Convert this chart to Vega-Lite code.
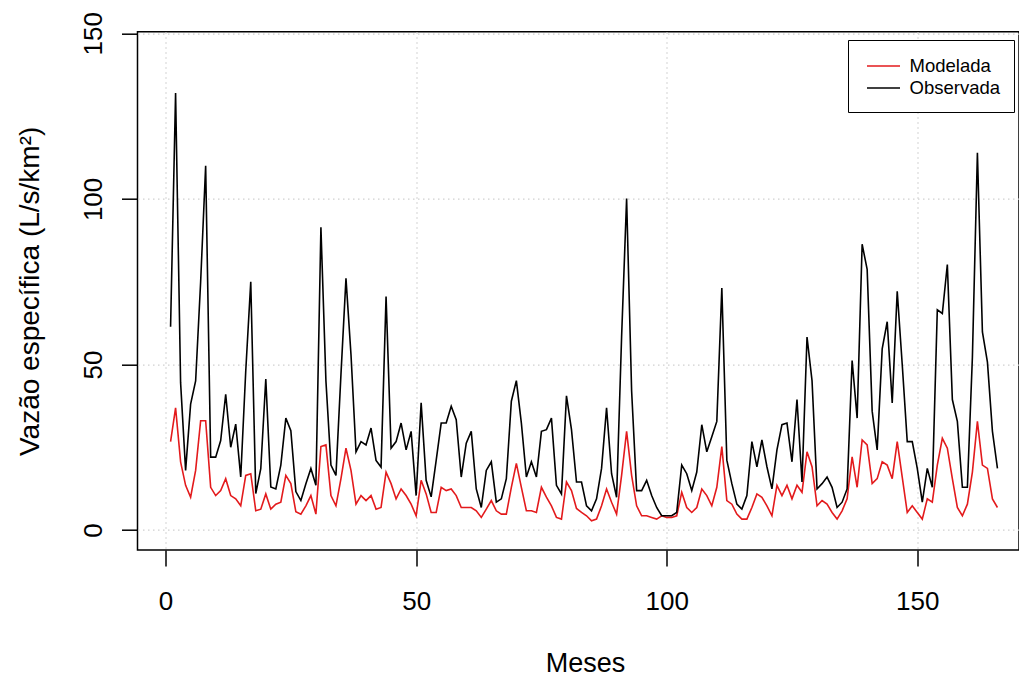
{
  "$schema": "https://vega.github.io/schema/vega-lite/v6.json",
  "width": 881.5,
  "height": 518.3,
  "autosize": {"type": "none"},
  "padding": {"left": 137.5, "top": 31.7, "right": 0, "bottom": 127},
  "background": "white",
  "config": {"view": {"stroke": "black", "strokeWidth": 1.5}, "font": "Liberation Sans"},
  "data": {"values": [
    {"mes":1,"Modelada":26.7,"Observada":61.4},{"mes":2,"Modelada":36.9,"Observada":132},{"mes":3,"Modelada":20.6,"Observada":44.5},{"mes":4,"Modelada":13.5,"Observada":18},{"mes":5,"Modelada":9.9,"Observada":38},
    {"mes":6,"Modelada":18,"Observada":45},{"mes":7,"Modelada":33,"Observada":75},{"mes":8,"Modelada":33,"Observada":110},{"mes":9,"Modelada":12.9,"Observada":22},{"mes":10,"Modelada":10.4,"Observada":22},
    {"mes":11,"Modelada":11.9,"Observada":27},{"mes":12,"Modelada":15.5,"Observada":41},{"mes":13,"Modelada":10.4,"Observada":25},{"mes":14,"Modelada":9.4,"Observada":32},{"mes":15,"Modelada":7.3,"Observada":16},
    {"mes":16,"Modelada":16.5,"Observada":48},{"mes":17,"Modelada":17,"Observada":75},{"mes":18,"Modelada":5.8,"Observada":11},{"mes":19,"Modelada":6.3,"Observada":18.5},{"mes":20,"Modelada":10.9,"Observada":45.6},
    {"mes":21,"Modelada":6.3,"Observada":13},{"mes":22,"Modelada":7.8,"Observada":12.4},{"mes":23,"Modelada":8.4,"Observada":19.6},{"mes":24,"Modelada":16.5,"Observada":33.8},{"mes":25,"Modelada":14,"Observada":30},
    {"mes":26,"Modelada":5.5,"Observada":11.6},{"mes":27,"Modelada":4.8,"Observada":8.9},{"mes":28,"Modelada":7.3,"Observada":14},{"mes":29,"Modelada":10.4,"Observada":18.6},{"mes":30,"Modelada":4.8,"Observada":13.5},
    {"mes":31,"Modelada":25.2,"Observada":91.4},{"mes":32,"Modelada":25.7,"Observada":45},{"mes":33,"Modelada":10.4,"Observada":19.6},{"mes":34,"Modelada":7.3,"Observada":16.5},{"mes":35,"Modelada":15.5,"Observada":47},
    {"mes":36,"Modelada":24.7,"Observada":76},{"mes":37,"Modelada":18,"Observada":53},{"mes":38,"Modelada":7.8,"Observada":23.6},{"mes":39,"Modelada":10.4,"Observada":26.7},{"mes":40,"Modelada":8.9,"Observada":25.7},
    {"mes":41,"Modelada":10.4,"Observada":30.8},{"mes":42,"Modelada":6.3,"Observada":21},{"mes":43,"Modelada":6.8,"Observada":19},{"mes":44,"Modelada":17.5,"Observada":70.5},{"mes":45,"Modelada":14,"Observada":24.7},
    {"mes":46,"Modelada":9.4,"Observada":26.7},{"mes":47,"Modelada":12.4,"Observada":32.3},{"mes":48,"Modelada":10.4,"Observada":24.2},{"mes":49,"Modelada":7.8,"Observada":29.8},{"mes":50,"Modelada":4.3,"Observada":10.4},
    {"mes":51,"Modelada":15,"Observada":38.4},{"mes":52,"Modelada":10.9,"Observada":15},{"mes":53,"Modelada":5.3,"Observada":10},{"mes":54,"Modelada":5.3,"Observada":21},{"mes":55,"Modelada":12.9,"Observada":32.3},
    {"mes":56,"Modelada":11.9,"Observada":32.3},{"mes":57,"Modelada":12.4,"Observada":37.4},{"mes":58,"Modelada":10.4,"Observada":33.3},{"mes":59,"Modelada":6.8,"Observada":16},{"mes":60,"Modelada":6.8,"Observada":26.2},
    {"mes":61,"Modelada":6.8,"Observada":29.8},{"mes":62,"Modelada":5.8,"Observada":12.4},{"mes":63,"Modelada":3.8,"Observada":6.8},{"mes":64,"Modelada":6.3,"Observada":18},{"mes":65,"Modelada":8.9,"Observada":20.6},
    {"mes":66,"Modelada":5.8,"Observada":8.4},{"mes":67,"Modelada":4.8,"Observada":9.4},{"mes":68,"Modelada":4.8,"Observada":15.5},{"mes":69,"Modelada":12.9,"Observada":38.9},{"mes":70,"Modelada":20.1,"Observada":45.1},
    {"mes":71,"Modelada":12.9,"Observada":32.3},{"mes":72,"Modelada":5.8,"Observada":16},{"mes":73,"Modelada":5.8,"Observada":20.6},{"mes":74,"Modelada":5.3,"Observada":16},{"mes":75,"Modelada":12.9,"Observada":29.8},
    {"mes":76,"Modelada":9.9,"Observada":30.3},{"mes":77,"Modelada":7.3,"Observada":33.8},{"mes":78,"Modelada":3.8,"Observada":13.5},{"mes":79,"Modelada":3.3,"Observada":10.9},{"mes":80,"Modelada":14.5,"Observada":40.5},
    {"mes":81,"Modelada":11.9,"Observada":30.3},{"mes":82,"Modelada":6.5,"Observada":14.5},{"mes":83,"Modelada":5.3,"Observada":14.5},{"mes":84,"Modelada":4.3,"Observada":7.3},{"mes":85,"Modelada":2.8,"Observada":5.8},
    {"mes":86,"Modelada":3.3,"Observada":9.4},{"mes":87,"Modelada":7.3,"Observada":18.6},{"mes":88,"Modelada":12.4,"Observada":36.9},{"mes":89,"Modelada":8.4,"Observada":17},{"mes":90,"Modelada":4.8,"Observada":9.9},
    {"mes":91,"Modelada":16.5,"Observada":58.3},{"mes":92,"Modelada":29.8,"Observada":100.1},{"mes":93,"Modelada":16.5,"Observada":42},{"mes":94,"Modelada":7.3,"Observada":11.9},{"mes":95,"Modelada":4.3,"Observada":11.9},
    {"mes":96,"Modelada":4.3,"Observada":15},{"mes":97,"Modelada":3.8,"Observada":10.4},{"mes":98,"Modelada":3.3,"Observada":6.8},{"mes":99,"Modelada":4.3,"Observada":4.3},{"mes":100,"Modelada":3.8,"Observada":4.3},
    {"mes":101,"Modelada":3.8,"Observada":4.3},{"mes":102,"Modelada":4.3,"Observada":5.3},{"mes":103,"Modelada":11.4,"Observada":19.6},{"mes":104,"Modelada":6.8,"Observada":17},{"mes":105,"Modelada":5.3,"Observada":11.9},
    {"mes":106,"Modelada":6.8,"Observada":17.5},{"mes":107,"Modelada":12.4,"Observada":31.8},{"mes":108,"Modelada":10.4,"Observada":23.6},{"mes":109,"Modelada":7.3,"Observada":28.2},{"mes":110,"Modelada":12.9,"Observada":32.8},
    {"mes":111,"Modelada":25.2,"Observada":73.1},{"mes":112,"Modelada":8.9,"Observada":21.1},{"mes":113,"Modelada":7.8,"Observada":14},{"mes":114,"Modelada":4.8,"Observada":7.8},{"mes":115,"Modelada":3.3,"Observada":6.3},
    {"mes":116,"Modelada":3.3,"Observada":10.4},{"mes":117,"Modelada":6.8,"Observada":26.7},{"mes":118,"Modelada":10.9,"Observada":19.1},{"mes":119,"Modelada":9.9,"Observada":27.2},{"mes":120,"Modelada":7.3,"Observada":19.1},
    {"mes":121,"Modelada":4.3,"Observada":12.4},{"mes":122,"Modelada":13.5,"Observada":24.2},{"mes":123,"Modelada":10.4,"Observada":31.8},{"mes":124,"Modelada":13.5,"Observada":32.3},{"mes":125,"Modelada":9.4,"Observada":20.6},
    {"mes":126,"Modelada":13.5,"Observada":39.4},{"mes":127,"Modelada":11.4,"Observada":14.5},{"mes":128,"Modelada":23.6,"Observada":58.3},{"mes":129,"Modelada":19.1,"Observada":45.1},{"mes":130,"Modelada":7.3,"Observada":12.4},
    {"mes":131,"Modelada":8.9,"Observada":14},{"mes":132,"Modelada":7.8,"Observada":16},{"mes":133,"Modelada":5.3,"Observada":12.9},{"mes":134,"Modelada":3.3,"Observada":6.8},{"mes":135,"Modelada":5.8,"Observada":8.4},
    {"mes":136,"Modelada":9.4,"Observada":12.4},{"mes":137,"Modelada":22.1,"Observada":51.2},{"mes":138,"Modelada":12.9,"Observada":33.8},{"mes":139,"Modelada":27.2,"Observada":86.3},{"mes":140,"Modelada":25.7,"Observada":78.7},
    {"mes":141,"Modelada":14,"Observada":35.9},{"mes":142,"Modelada":15.5,"Observada":24.2},{"mes":143,"Modelada":20.6,"Observada":54.7},{"mes":144,"Modelada":19.6,"Observada":62.9},{"mes":145,"Modelada":15.5,"Observada":38.4},
    {"mes":146,"Modelada":26.7,"Observada":72.1},{"mes":147,"Modelada":16,"Observada":50},{"mes":148,"Modelada":5.3,"Observada":26.7},{"mes":149,"Modelada":7.3,"Observada":26.7},{"mes":150,"Modelada":5.3,"Observada":18.6},
    {"mes":151,"Modelada":3.3,"Observada":8.4},{"mes":152,"Modelada":9.4,"Observada":18.6},{"mes":153,"Modelada":8.4,"Observada":12.9},{"mes":154,"Modelada":19.6,"Observada":66.5},{"mes":155,"Modelada":27.7,"Observada":65.4},
    {"mes":156,"Modelada":24.7,"Observada":80.2},{"mes":157,"Modelada":15.5,"Observada":39.4},{"mes":158,"Modelada":6.8,"Observada":32.8},{"mes":159,"Modelada":4.3,"Observada":12.9},{"mes":160,"Modelada":7.8,"Observada":12.9},
    {"mes":161,"Modelada":17.5,"Observada":52.2},{"mes":162,"Modelada":32.8,"Observada":113.9},{"mes":163,"Modelada":19.6,"Observada":59.8},{"mes":164,"Modelada":18.6,"Observada":50.7},{"mes":165,"Modelada":9.4,"Observada":29.8},
    {"mes":166,"Modelada":6.8,"Observada":18.6}
  ]},
  "transform": [{"fold": ["Modelada", "Observada"], "as": ["serie", "vazao"]}],
  "mark": {"type": "line", "strokeWidth": 1.6, "clip": true},
  "encoding": {
    "x": {
      "field": "mes", "type": "quantitative",
      "scale": {"domain": [-5.6, 170.3], "nice": false, "zero": false},
      "axis": {
        "values": [0, 50, 100, 150], "title": "Meses", "titleFontSize": 27, "titleFontWeight": "normal", "titleColor": "black",
        "labelFontSize": 26, "labelColor": "black", "labelPadding": 22, "labelFlush": false, "labelOverlap": false,
        "tickSize": 16, "tickColor": "black", "tickWidth": 1.5, "domain": false,
        "grid": true, "gridColor": "#cfcfcf", "gridDash": [1.5, 3.5], "gridWidth": 1.2,
        "titleX": 447.5, "titleY": 121.5, "titleBaseline": "alphabetic", "titleAlign": "center"
      }
    },
    "y": {
      "field": "vazao", "type": "quantitative",
      "scale": {"domain": [-6.04, 150.5], "nice": false, "zero": false},
      "axis": {
        "values": [0, 50, 100, 150], "title": "Vazão específica (L/s/km²)", "titleFontSize": 28, "titleFontWeight": "normal", "titleColor": "black",
        "labelFontSize": 26, "labelColor": "black", "labelAngle": -90, "labelAlign": "center", "labelBaseline": "alphabetic", "labelPadding": 20,
        "labelFlush": false, "labelOverlap": false,
        "tickSize": 16, "tickColor": "black", "tickWidth": 1.5, "domain": false,
        "grid": true, "gridColor": "#cfcfcf", "gridDash": [1.5, 3.5], "gridWidth": 1.2,
        "titleAngle": 270, "titleX": -99.2, "titleY": 259.15, "titleBaseline": "alphabetic", "titleAlign": "center"
      }
    },
    "stroke": {
      "field": "serie", "type": "nominal",
      "scale": {"domain": ["Modelada", "Observada"], "range": ["#e31a1c", "#000000"]},
      "legend": {
        "title": null, "orient": "none", "legendX": 710.5, "legendY": 8.3,
        "strokeColor": "black", "fillColor": "white", "padding": 14, "cornerRadius": 0,
        "symbolType": "M-1.5,0H1.5", "symbolSize": 484, "symbolStrokeWidth": 1.6, "symbolOffset": 9.5,
        "labelFontSize": 18.5, "labelColor": "black", "labelOffset": 14, "rowPadding": -2
      }
    }
  }
}
